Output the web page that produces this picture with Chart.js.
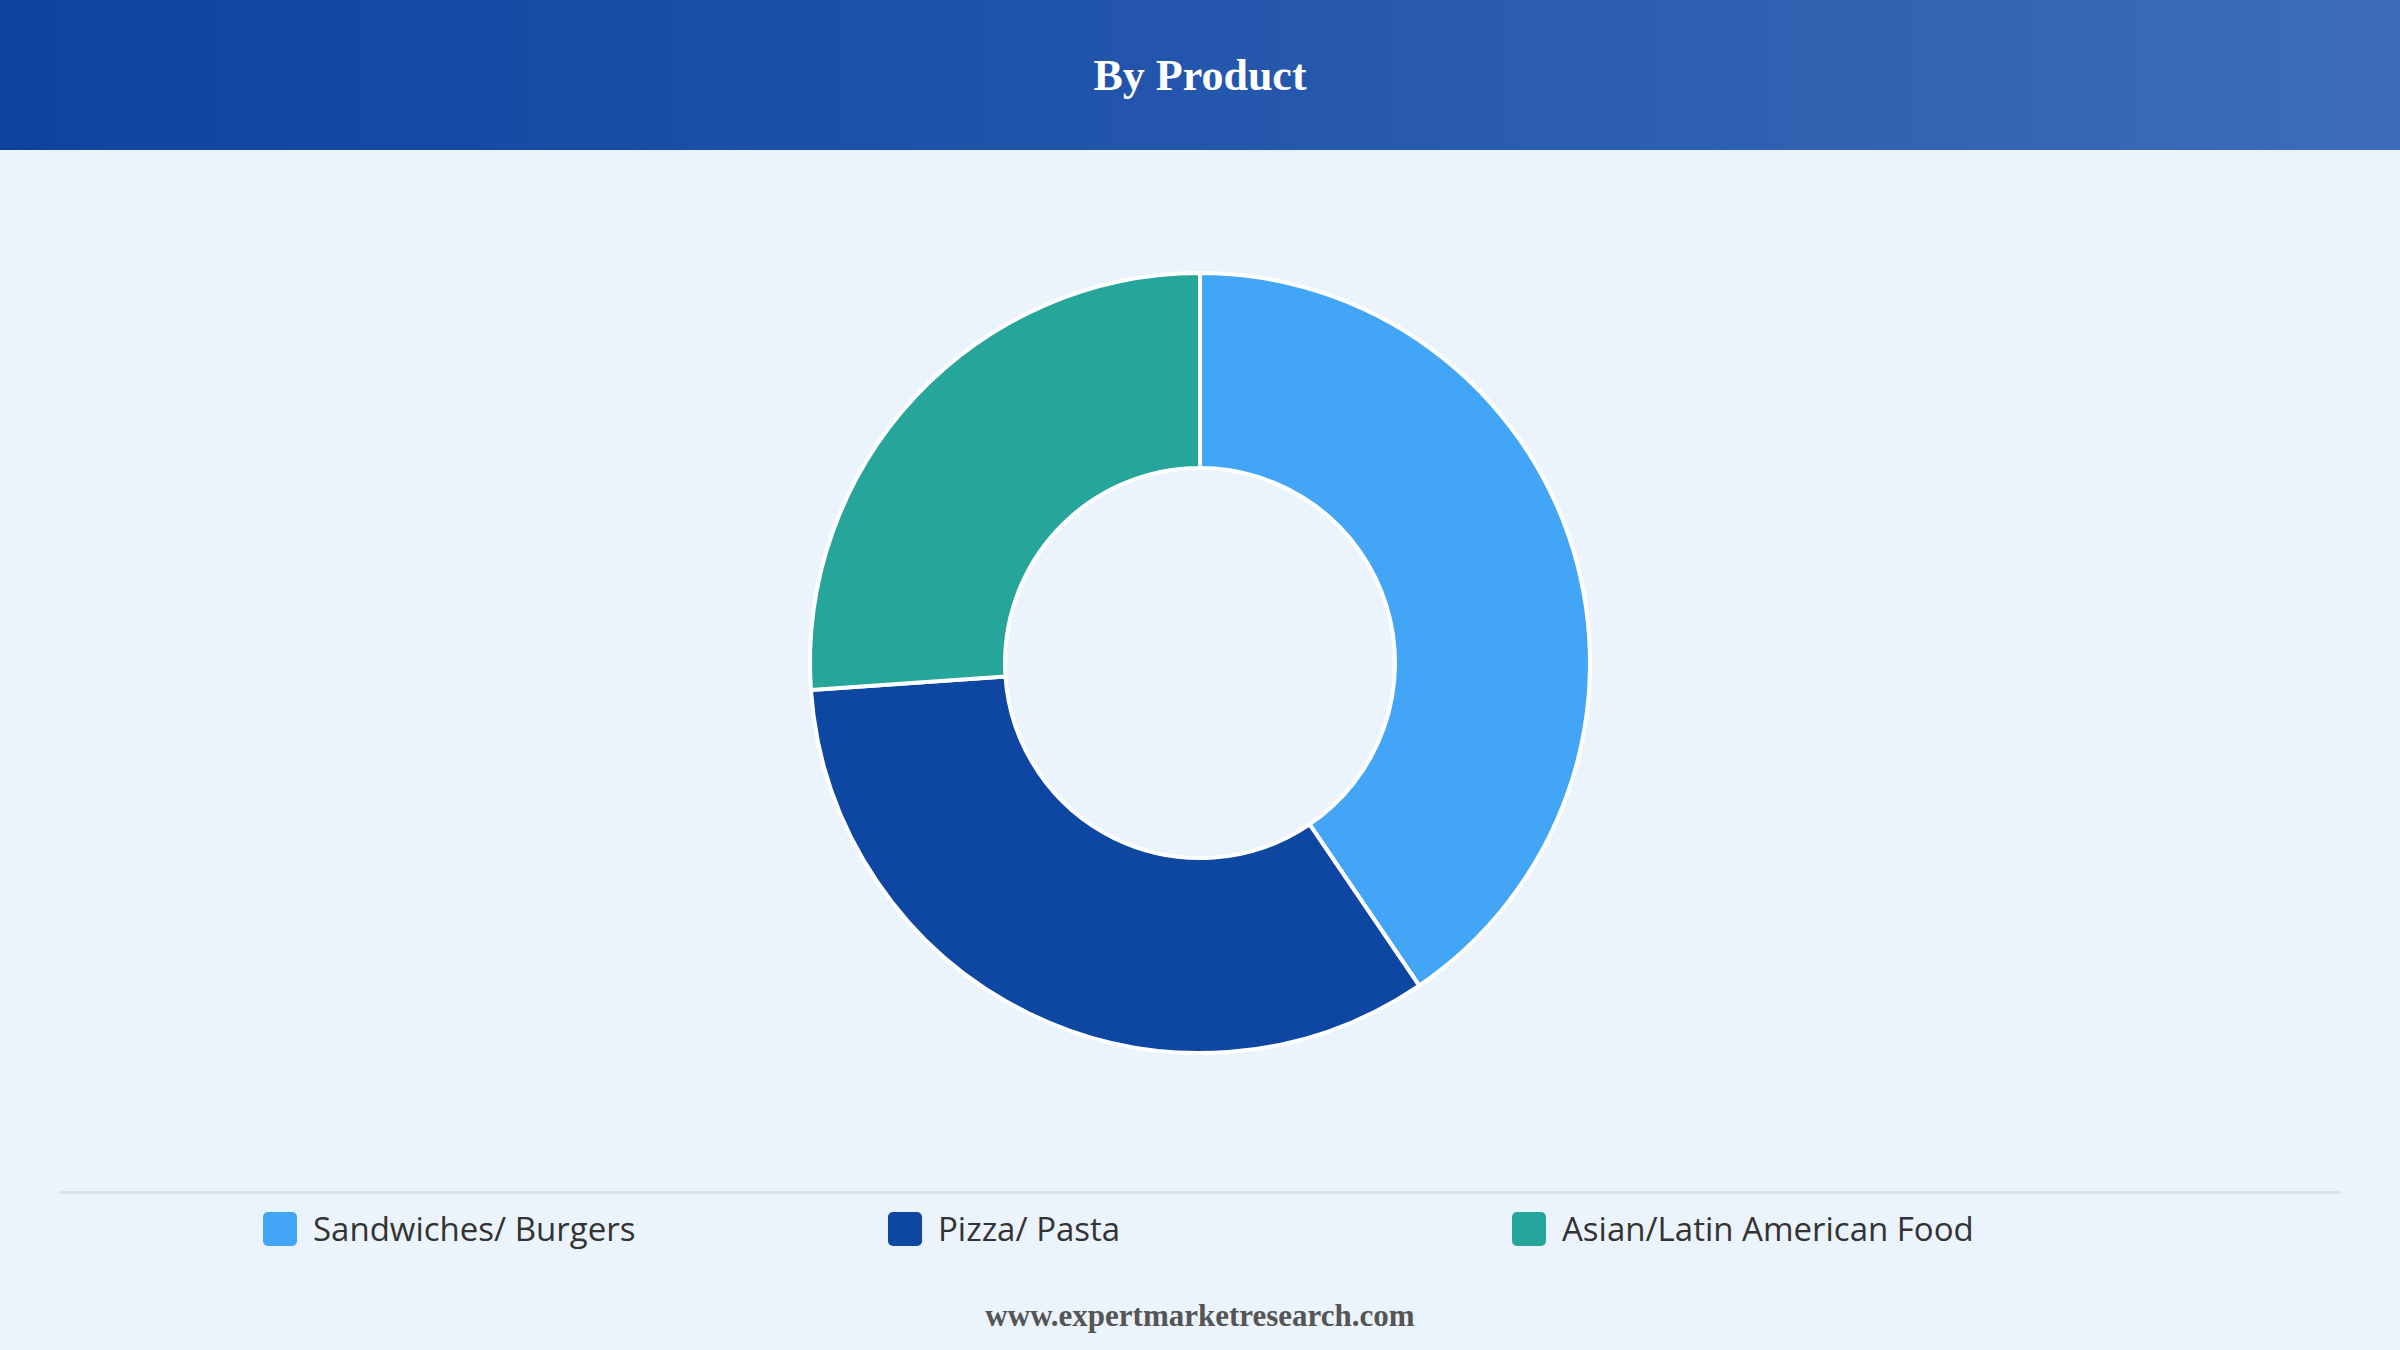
<!DOCTYPE html>
<html>
<head>
<meta charset="utf-8">
<script src="https://cdn.jsdelivr.net/npm/chart.js@4.4.0/dist/chart.umd.min.js"></script>
<style>
  body { margin:0; width:2400px; height:1350px; background:#ebf3fc; overflow:hidden; position:relative; font-family:"Open Sans", sans-serif; }
  #header { position:absolute; left:0; top:0; width:2400px; height:150px;
    background:linear-gradient(90deg, #0d44a0 0%, #2356ac 50%, #3d6db8 100%);
    color:#fff; font-family:"Liberation Serif", serif; font-weight:bold; font-size:44px;
    display:flex; align-items:center; justify-content:center; }
  #wrap { position:absolute; left:0; top:150px; width:2400px; height:1026px; }
  #rule { position:absolute; left:60px; top:1191px; width:2280px; height:3px; background:#dcdfe4; }
  #legend { position:absolute; top:1206px; left:0; width:2400px; height:46px; }
  .item { position:absolute; top:0; display:flex; align-items:center; font-size:33px; color:#333; }
  .sw { width:34px; height:34px; border-radius:5px; margin-right:16px; }
  #foot { position:absolute; top:1298px; width:2400px; text-align:center; font-family:"Liberation Serif", serif; font-weight:bold; font-size:31px; color:#555; }
</style>
</head>
<body>
<div id="header">By Product</div>
<div id="wrap"><canvas id="donut"></canvas></div>
<div id="rule"></div>
<div id="legend"></div>
<div id="foot">www.expertmarketresearch.com</div>
<script>
const categories = ['Sandwiches/ Burgers', 'Pizza/ Pasta', 'Asian/Latin American Food'];
const shares = [40.5, 33.4, 26.1];
const colors = ['#42a5f5', '#0d47a1', '#26a69a'];
const legendX = [263, 888, 1512];

document.getElementById('legend').innerHTML = categories.map((c, i) => `
  <div class="item" style="left:${legendX[i]}px"><div class="sw" style="background:${colors[i]}"></div>${c}</div>
`).join('');

new Chart(document.getElementById('donut'), {
  type: 'doughnut',
  data: {
    labels: categories,
    datasets: [{ data: shares, backgroundColor: colors, borderColor: '#ffffff', borderWidth: 4 }]
  },
  options: {
    responsive: true,
    maintainAspectRatio: false,
    animation: false,
    radius: 390,
    cutout: '50%',
    plugins: { legend: { display: false }, tooltip: { enabled: false } }
  }
});
</script>
</body>
</html>
